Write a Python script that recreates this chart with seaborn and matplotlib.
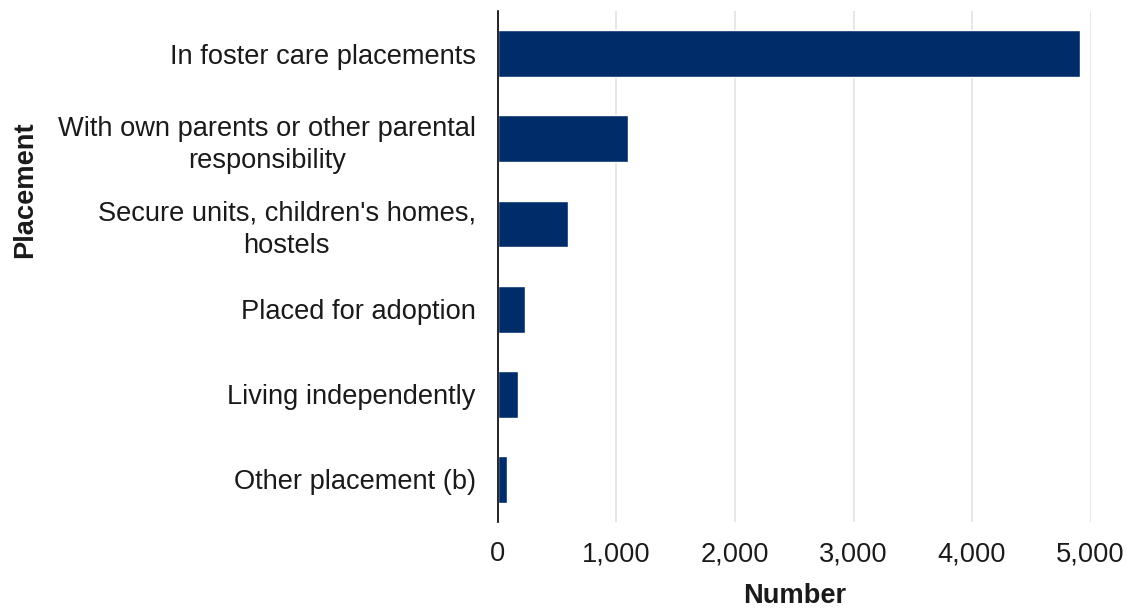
import matplotlib.pyplot as plt
import pandas as pd
import seaborn as sns

placements = [
    "In foster care placements",
    "With own parents or other parental\nresponsibility",
    "Secure units, children's homes,\nhostels",
    "Placed for adoption",
    "Living independently",
    "Other placement (b)",
]
numbers = [4910, 1100, 590, 225, 170, 80]
x_ticks = [0, 1000, 2000, 3000, 4000, 5000]

df = pd.DataFrame({"Placement": placements, "Number": numbers})

sns.set_theme(style="white")
plt.rcParams["font.family"] = ["Liberation Sans", "DejaVu Sans"]

fig = plt.figure(figsize=(11.29, 6.12), dpi=100)
ax = fig.add_axes([0.441, 0.147, 0.525, 0.835])

sns.barplot(
    data=df,
    x="Number",
    y="Placement",
    orient="h",
    color="#002d6a",
    saturation=1,
    width=0.55,
    ax=ax,
)

ax.set_xlim(0, 5000)
ax.set_ylim(5.5, -0.5)
ax.set_xticks(x_ticks)
ax.set_xticklabels([f"{v:,}" for v in x_ticks])
ax.xaxis.grid(True, color="#e3e3e3", linewidth=1.2)
ax.set_axisbelow(True)

for side in ["top", "right", "bottom"]:
    ax.spines[side].set_visible(False)
ax.spines["left"].set_color("black")
ax.spines["left"].set_linewidth(1.2)

ax.tick_params(axis="both", length=0, labelsize=19.6, colors="#1a1a1a")
ax.tick_params(axis="x", pad=14)
ax.tick_params(axis="y", pad=16)
for lab in ax.get_yticklabels():
    lab.set_multialignment("center")
    lab.set_linespacing(1.3)

ax.set_xlabel("Number", fontsize=19.6, fontweight="bold", color="#1a1a1a")
ax.set_ylabel("Placement", fontsize=19.6, fontweight="bold", color="#1a1a1a")
ax.xaxis.set_label_coords(0.5, -0.12)
ax.yaxis.set_label_coords(-0.775, 0.65)

fig.savefig("out.png", dpi=100)
